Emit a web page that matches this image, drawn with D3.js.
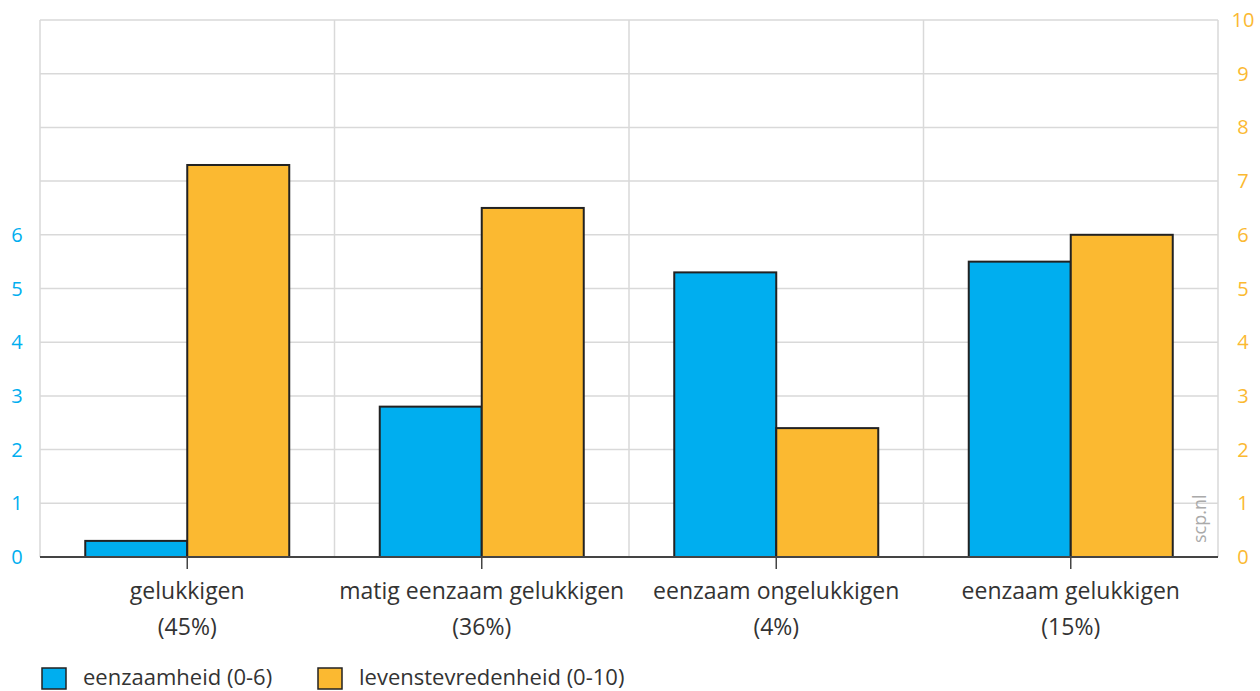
<!DOCTYPE html>
<html>
<head>
<meta charset="utf-8">
<script src="https://cdn.jsdelivr.net/npm/d3@7"></script>
<style>
  body { margin: 0; background: #fff; }
  svg { font-family: "Open Sans", sans-serif; }
</style>
</head>
<body>
<svg class="chart" width="1260" height="691"></svg>
<script>
var categories = ["gelukkigen", "matig eenzaam gelukkigen", "eenzaam ongelukkigen", "eenzaam gelukkigen"];
var shares = ["(45%)", "(36%)", "(4%)", "(15%)"];
var eenzaamheid = [0.3, 2.8, 5.3, 5.5];
var levenstevredenheid = [7.3, 6.5, 2.4, 6.0];
var leftTicks = [0, 1, 2, 3, 4, 5, 6];
var rightTicks = [0, 1, 2, 3, 4, 5, 6, 7, 8, 9, 10];
var seriesNames = ["eenzaamheid (0-6)", "levenstevredenheid (0-10)"];

var blue = "#00aeef", orange = "#fbb931", grid = "#d9d9d9", ink = "#333";
var plotL = 40, plotR = 1218, plotT = 20, plotB = 557;

var svg = d3.select("svg.chart");

var x = d3.scaleBand().domain(categories).range([plotL, plotR]);
var y = d3.scaleLinear().domain([0, 10]).range([plotB, plotT]);
var barW = 102;

/* grid */
svg.append("g").selectAll("line")
    .data(rightTicks.slice(1))
    .enter().append("line")
    .attr("x1", plotL).attr("x2", plotR)
    .attr("y1", function(d){ return y(d); })
    .attr("y2", function(d){ return y(d); })
    .attr("stroke", grid).attr("stroke-width", 1.5);

var edges = categories.map(function(c){ return x(c); }).concat([plotR]);
svg.append("g").selectAll("line")
    .data(edges)
    .enter().append("line")
    .attr("x1", function(d){ return d; }).attr("x2", function(d){ return d; })
    .attr("y1", plotT).attr("y2", plotB)
    .attr("stroke", grid).attr("stroke-width", 1.5);

/* bars */
function drawBars(values, fill, dx){
    svg.append("g").selectAll("rect")
        .data(values)
        .enter().append("rect")
        .attr("x", function(d, i){ return x(categories[i]) + x.bandwidth()/2 + dx; })
        .attr("y", function(d){ return y(d); })
        .attr("width", barW)
        .attr("height", function(d){ return plotB - y(d); })
        .attr("fill", fill)
        .attr("stroke", "#222")
        .attr("stroke-width", 2);
}
drawBars(eenzaamheid, blue, -barW);
drawBars(levenstevredenheid, orange, 0);

/* baseline and ticks */
svg.append("line")
    .attr("x1", plotL).attr("x2", plotR)
    .attr("y1", plotB).attr("y2", plotB)
    .attr("stroke", "#444").attr("stroke-width", 2);

svg.append("g").selectAll("line")
    .data(categories)
    .enter().append("line")
    .attr("x1", function(d){ return x(d) + x.bandwidth()/2; })
    .attr("x2", function(d){ return x(d) + x.bandwidth()/2; })
    .attr("y1", plotB).attr("y2", plotB + 12)
    .attr("stroke", "#444").attr("stroke-width", 1.5);

/* category labels */
var labels = svg.append("g").selectAll("text")
    .data(categories)
    .enter().append("text")
    .attr("text-anchor", "middle")
    .attr("font-size", 23)
    .attr("fill", ink);
labels.append("tspan")
    .attr("x", function(d){ return x(d) + x.bandwidth()/2; })
    .attr("y", 599)
    .text(function(d){ return d; });
labels.append("tspan")
    .attr("x", function(d){ return x(d) + x.bandwidth()/2; })
    .attr("y", 635)
    .text(function(d, i){ return shares[i]; });

/* value axes */
svg.append("g").selectAll("text")
    .data(leftTicks)
    .enter().append("text")
    .attr("x", 17).attr("y", function(d){ return y(d) + 7; })
    .attr("text-anchor", "middle")
    .attr("font-size", 20)
    .attr("fill", blue)
    .text(function(d){ return d; });

svg.append("g").selectAll("text")
    .data(rightTicks)
    .enter().append("text")
    .attr("x", 1243).attr("y", function(d){ return y(d) + 7; })
    .attr("text-anchor", "middle")
    .attr("font-size", 20)
    .attr("fill", orange)
    .text(function(d){ return d; });

/* source */
svg.append("text")
    .attr("transform", "translate(1206,543) rotate(-90)")
    .attr("font-size", 18)
    .attr("fill", "#aaa")
    .text("scp.nl");

/* legend */
var legendX = [42, 318];
var legendFill = [blue, orange];
var lg = svg.append("g").selectAll("g")
    .data(seriesNames)
    .enter().append("g")
    .attr("transform", function(d, i){ return "translate(" + legendX[i] + ",668)"; });
lg.append("rect")
    .attr("width", 24).attr("height", 21)
    .attr("fill", function(d, i){ return legendFill[i]; })
    .attr("stroke", "#222").attr("stroke-width", 1.5);
lg.append("text")
    .attr("x", 41).attr("y", 17)
    .attr("font-size", 22)
    .attr("fill", ink)
    .text(function(d){ return d; });
</script>
</body>
</html>
